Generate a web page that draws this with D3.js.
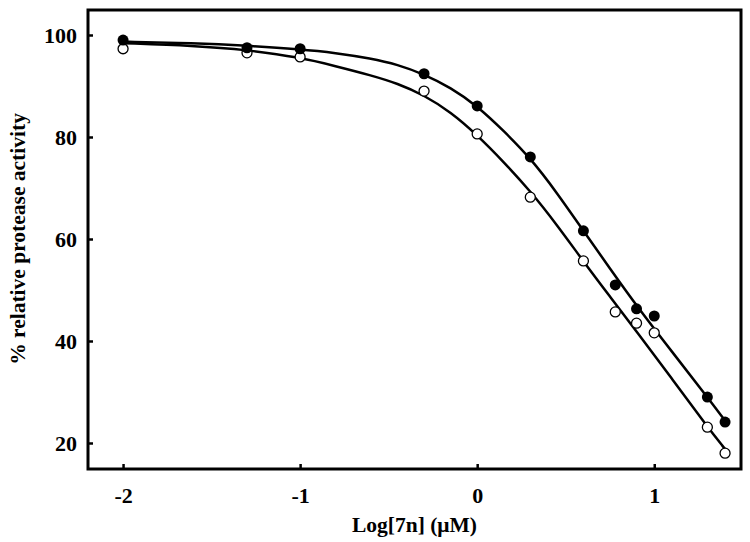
<!DOCTYPE html>
<html>
<head>
<meta charset="utf-8">
<script src="https://cdn.jsdelivr.net/npm/d3@7"></script>
<style>
  body { margin: 0; background: #fff; }
  text { font-family: "Liberation Serif", "Times New Roman", serif; font-weight: bold; fill: #000; }
</style>
</head>
<body>
<svg id="chart" width="750" height="542"></svg>
<script>
  "use strict"

  // Data
  const logConc = [-2, -1.3, -1, -0.3, 0, 0.3, 0.6, 0.78, 0.9, 1, 1.3, 1.4]
  const filledValues = [99.0, 97.5, 97.3, 92.4, 86.1, 76.1, 61.6, 51.0, 46.3, 44.9, 29.0, 24.1]
  const openValues = [97.3, 96.5, 95.7, 89.0, 80.6, 68.2, 55.7, 45.7, 43.5, 41.6, 23.1, 18.0]

  // fitted curves
  const curveX = [-2, -1.6, -1.3, -1, -0.8, -0.6, -0.45, -0.3, -0.15, 0, 0.15, 0.3, 0.45, 0.6, 0.75, 0.9, 1.1, 1.3, 1.4]
  const filledCurve = [98.7, 98.4, 97.9, 97.2, 96.5, 95.4, 94.2, 92.3, 89.7, 86.1, 81.2, 75.9, 69.1, 61.6, 54.2, 46.9, 37.9, 29.0, 24.4]
  const openCurve = [98.4, 97.9, 97.1, 95.6, 93.9, 92.1, 90.5, 88.2, 84.9, 80.4, 75.1, 69.4, 62.8, 55.6, 48.7, 41.9, 32.6, 23.2, 18.8]

  const xTicks = [-2, -1, 0, 1]
  const yTicks = [20, 40, 60, 80, 100]

  const svg = d3.select('#chart')
  const margin = { top: 10, right: 9, bottom: 73, left: 88 }
  const width = 750 - margin.left - margin.right
  const height = 542 - margin.top - margin.bottom

  const x = d3.scaleLinear().domain([-2.198, 1.49]).range([0, width])
  const y = d3.scaleLinear().domain([14.9, 104.9]).range([height, 0])

  const g = svg.append('g')
    .attr('transform', `translate(${margin.left},${margin.top})`)

  // Axes, ticks pointing inside
  const x_axis = g.append('g')
    .attr('transform', `translate(0,${height})`)
    .call(d3.axisBottom(x).tickValues(xTicks).tickSizeInner(-5).tickSizeOuter(0).tickPadding(18))
  const y_axis = g.append('g')
    .call(d3.axisLeft(y).tickValues(yTicks).tickSizeInner(-5).tickSizeOuter(0).tickPadding(11))

  for (let ax of [x_axis, y_axis]) {
    ax.select('.domain').remove()
    ax.selectAll('.tick line').attr('stroke', '#000').attr('stroke-width', 2.5)
    ax.selectAll('.tick text')
      .attr('font-size', 22)
      .attr('font-family', '"Liberation Serif", serif')
      .attr('font-weight', 'bold')
      .text(d => d < 0 ? '-' + Math.abs(d) : d)
  }

  // Frame
  g.append('rect')
    .attr('width', width).attr('height', height)
    .attr('fill', 'none').attr('stroke', '#000').attr('stroke-width', 3)

  // Fitted curves
  const line = d3.line().x(d => x(d[0])).y(d => y(d[1])).curve(d3.curveBasis)
  for (let values of [filledCurve, openCurve]) {
    g.append('path')
      .datum(d3.zip(curveX, values))
      .attr('d', line)
      .attr('fill', 'none').attr('stroke', '#000').attr('stroke-width', 2.5)
  }

  // Points
  g.selectAll('circle.open')
    .data(d3.zip(logConc, openValues))
    .enter().append('circle')
      .attr('class', 'open')
      .attr('cx', d => x(d[0])).attr('cy', d => y(d[1])).attr('r', 5)
      .attr('fill', '#fff').attr('stroke', '#000').attr('stroke-width', 1.3)
  g.selectAll('circle.filled')
    .data(d3.zip(logConc, filledValues))
    .enter().append('circle')
      .attr('class', 'filled')
      .attr('cx', d => x(d[0])).attr('cy', d => y(d[1])).attr('r', 5.5)
      .attr('fill', '#000')

  // Titles
  svg.append('text')
    .attr('x', margin.left + width / 2).attr('y', 532)
    .attr('text-anchor', 'middle').attr('font-size', 21.5)
    .text('Log[7n] (\u03bcM)')
  svg.append('text')
    .attr('transform', `translate(25,${margin.top + y(60)}) rotate(-90)`)
    .attr('text-anchor', 'middle').attr('font-size', 21.5)
    .text('% relative protease activity')
</script>
</body>
</html>
